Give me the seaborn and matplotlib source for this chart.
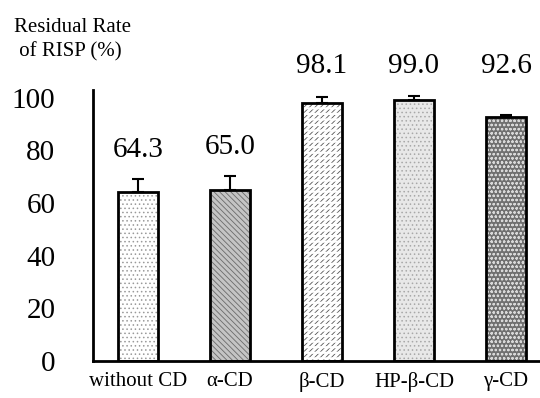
import matplotlib
matplotlib.use("Agg")
import matplotlib.pyplot as plt
import seaborn as sns
import pandas as pd
import numpy as np

categories = ["without CD", "α-CD", "β-CD", "HP-β-CD", "γ-CD"]
values = [64.3, 65.0, 98.1, 99.0, 92.6]
errors = [4.7, 5.2, 2.4, 1.6, 1.0]
yticks = [0, 20, 40, 60, 80, 100]

sns.set_theme(style="white")
plt.rcParams['font.family'] = ['Liberation Serif', 'DejaVu Serif']
plt.rcParams['hatch.linewidth'] = 0.6

df = pd.DataFrame({"cat": categories, "val": values})

fig = plt.figure(figsize=(5.4, 3.98), dpi=100)
ax = fig.add_axes([0.172, 0.093, 0.828, 0.681])

sns.barplot(data=df, x="cat", y="val", ax=ax, width=0.43, color="white",
            errorbar=None, order=categories)

faces = ["#ffffff", "#c4c4c4", "#ffffff", "#e8e8e8", "#707070"]
hatch_cols = ["#9a9a9a", "#6a6a6a", "#555555", "#a8a8a8", "#d8d8d8"]
hatches = ["....", "\\\\\\\\\\\\", "//////", "....", "oooo"]

for i, (p, fc, hc, h) in enumerate(zip(list(ax.patches), faces, hatch_cols, hatches)):
    p.set_facecolor(fc)
    p.set_edgecolor(hc)
    p.set_hatch(h)
    p.set_linewidth(0)
    if i == 2:
        # break diagonal lines into rows of short slashes
        gap = plt.Rectangle(p.get_xy(), p.get_width(), p.get_height(),
                            facecolor="none", edgecolor="white", hatch="---",
                            linewidth=0, zorder=2.5)
        if hasattr(gap, "set_hatch_linewidth"):
            gap.set_hatch_linewidth(1.6)
        ax.add_patch(gap)
    outline = plt.Rectangle(p.get_xy(), p.get_width(), p.get_height(),
                            fill=False, edgecolor="black", linewidth=2, zorder=3)
    ax.add_patch(outline)

x = np.arange(len(categories))
ax.errorbar(x, values, yerr=[np.zeros(len(errors)), errors], fmt="none",
            ecolor="black", elinewidth=1.5, capsize=4, capthick=1.5, zorder=4)

tops = [v + e for v, e in zip(values, errors)]
top_row = max(tops) + 11.5
for xi, v, t in zip(x, values, tops):
    y = top_row if t > 90 else t + 11
    ax.text(xi, y, f"{v:.1f}", ha="center", va="center", fontsize=21, color="black")

ax.set_ylim(0, 103)
ax.set_xlim(-0.49, 4.37)
ax.set_yticks(yticks)
ax.set_yticklabels([str(t) for t in yticks], fontsize=21)
ax.set_xticks(x)
ax.set_xticklabels(categories, fontsize=15)
ax.set_xlabel("")
ax.set_ylabel("")

for s in ["top", "right"]:
    ax.spines[s].set_visible(False)
for s in ["left", "bottom"]:
    ax.spines[s].set_color("black")
    ax.spines[s].set_linewidth(2)

ax.tick_params(axis="y", direction="in", length=5, width=1.5, colors="black", pad=27)
ax.tick_params(axis="x", length=0, pad=8, colors="black")

fig.text(0.026, 0.90, "Residual Rate\n of RISP (%)", fontsize=15, ha="left", va="center",
         linespacing=1.3, color="black")

fig.savefig("out.png", dpi=100)
